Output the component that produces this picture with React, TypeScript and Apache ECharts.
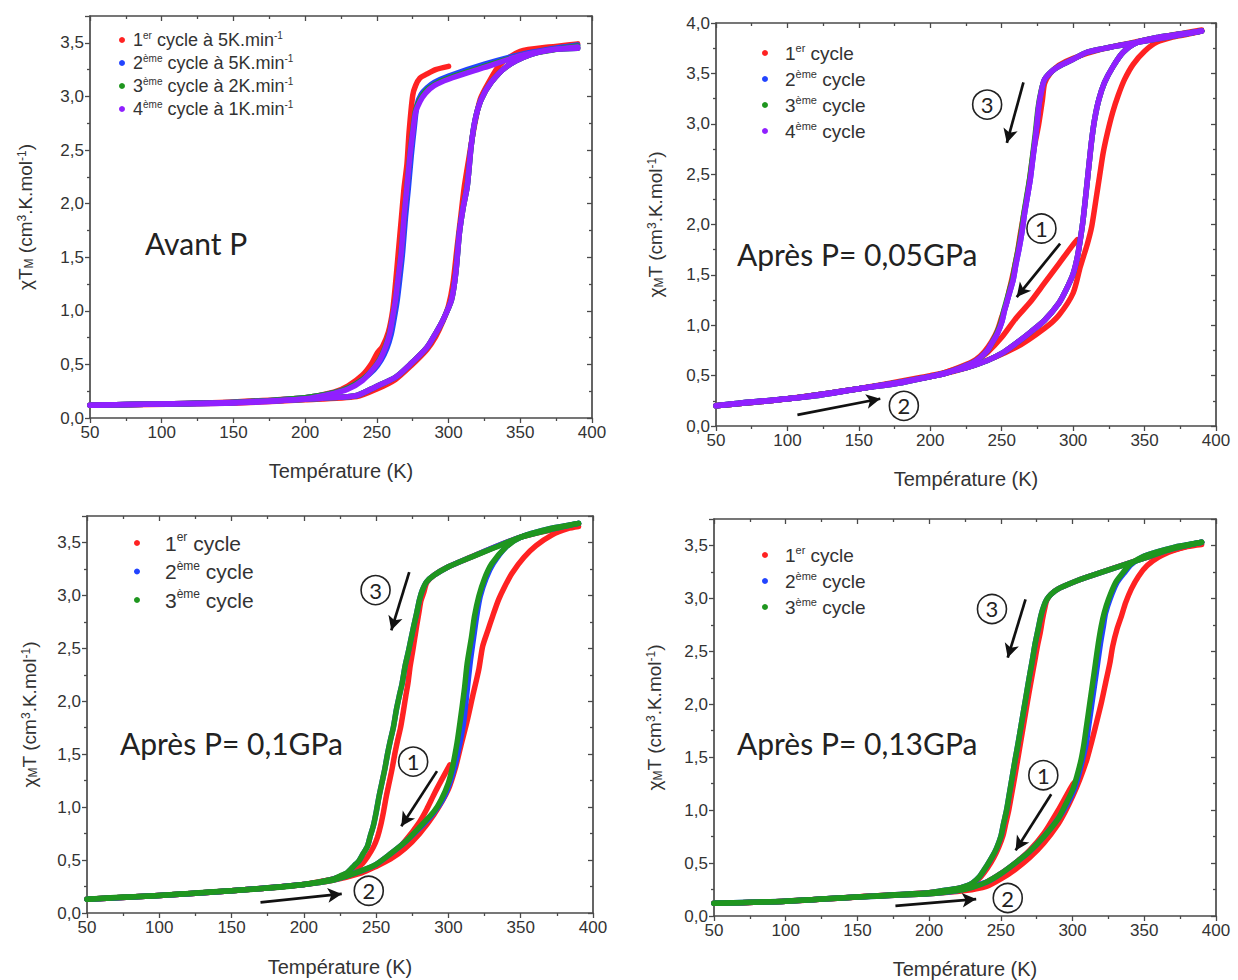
import React, { useEffect, useRef } from "react";
import * as echarts from "echarts";

type Pt = [number, number];

// ---------- legend names ----------
const p1Names = [
  "1er cycle à 5K.min-1",
  "2ème cycle à 5K.min-1",
  "3ème cycle à 2K.min-1",
  "4ème cycle à 1K.min-1",
];
const cycNames = ["1er cycle", "2ème cycle", "3ème cycle", "4ème cycle"];

// ---------- Panel 1 : Avant P ----------
const p1RedCool: Pt[] = [[300,3.28],[291,3.25],[285,3.21],[280,3.17],[277,3.10],[275,3.01],[272.5,2.67],[271,2.37],[269,2.15],[267,1.85],[265,1.55],[263,1.25],[261,1.0],[258,0.8],[254,0.67],[250,0.6],[246,0.5],[240,0.4],[230,0.3],[220,0.24],[200,0.19],[150,0.15],[100,0.13],[50,0.12]];
const p1RedWarm: Pt[] = [[50,0.12],[150,0.14],[200,0.17],[236,0.2],[250,0.27],[263,0.36],[274,0.49],[285,0.64],[291,0.76],[296,0.9],[300,1.05],[303,1.25],[306,1.6],[308.5,1.88],[311,2.16],[314,2.41],[317.5,2.69],[322,2.97],[328,3.13],[336,3.3],[350,3.42],[370,3.46],[390,3.49]];
const p1BlueCool: Pt[] = [[390,3.48],[370,3.44],[350,3.39],[325,3.3],[300,3.19],[290,3.13],[285,3.08],[281,3.02],[278,2.92],[276,2.7],[274,2.45],[272,2.15],[270,1.88],[268,1.55],[266,1.3],[264,1.08],[262,0.92],[260,0.78],[257,0.65],[253,0.54],[248,0.45],[240,0.36],[230,0.28],[220,0.235],[200,0.19],[150,0.145],[100,0.13],[50,0.12]];
const p1GreenCool: Pt[] = [[390,3.47],[350,3.38],[325,3.28],[300,3.17],[290,3.11],[284,3.05],[280,2.97],[277,2.87],[275,2.68],[273,2.45],[271,2.16],[269,1.88],[267,1.55],[265,1.32],[263,1.1],[261,0.94],[259,0.8],[256,0.67],[252,0.55],[247,0.45],[240,0.36],[230,0.28],[220,0.235],[200,0.19],[150,0.145],[100,0.13],[50,0.12]];
const p1PurpleCool: Pt[] = [[390,3.46],[370,3.43],[350,3.38],[325,3.27],[300,3.16],[290,3.1],[284,3.03],[280,2.95],[277,2.85],[275,2.66],[273,2.44],[271,2.16],[269,1.88],[267,1.54],[265,1.32],[263,1.1],[261,0.94],[259,0.79],[256,0.66],[252,0.54],[247,0.45],[240,0.35],[230,0.27],[220,0.23],[200,0.18],[150,0.14],[100,0.13],[50,0.12]];
const p1Warm: Pt[] = [[50,0.12],[100,0.13],[150,0.145],[200,0.175],[220,0.19],[236,0.21],[249,0.29],[263,0.38],[274,0.51],[285,0.66],[291,0.79],[296,0.91],[302,1.1],[305,1.35],[307.5,1.72],[310,1.95],[313,2.16],[315.7,2.53],[318.5,2.78],[322.7,2.97],[329.6,3.13],[340.6,3.28],[357,3.39],[374,3.44],[390,3.45]];

// ---------- Panel 2 : Après P = 0,05 GPa ----------
const p2RedStart: Pt[] = [[303,1.85],[300,1.8],[290,1.61],[280,1.42],[270,1.23],[260,1.07],[250,0.88],[240,0.73],[232,0.65],[225,0.6],[210,0.53],[200,0.49],[150,0.37],[100,0.27],[50,0.2]];
const p2RedWarm: Pt[] = [[50,0.2],[100,0.27],[150,0.37],[200,0.49],[230,0.6],[260,0.78],[280,0.97],[290,1.1],[300,1.32],[305,1.58],[310,1.81],[313,1.98],[316,2.25],[318.5,2.48],[321,2.71],[324,2.91],[327.6,3.11],[331.5,3.28],[336,3.44],[342,3.59],[350,3.72],[358.6,3.81],[369.6,3.86],[380.7,3.89],[390,3.92]];
const p2RedCool: Pt[] = [[390,3.93],[350,3.83],[320,3.74],[300,3.65],[290,3.58],[284,3.5],[280,3.4],[278.5,3.24],[275.7,2.98],[272.4,2.74],[270.2,2.51],[267.4,2.25],[265.2,2.08],[263,1.9],[261,1.72],[259,1.58],[257,1.45],[255,1.33],[253,1.2],[250,1.08],[247,0.95],[243,0.84],[238,0.74],[232,0.66],[225,0.61],[210,0.53],[200,0.5],[150,0.37],[100,0.27],[50,0.2]];
const p2GreenCool: Pt[] = [[390,3.92],[350,3.82],[330,3.77],[310,3.71],[300,3.64],[290,3.57],[285,3.52],[280,3.44],[277.5,3.32],[275.5,3.16],[273.5,2.9],[271.5,2.67],[269.5,2.45],[267.5,2.28],[265.5,2.11],[263.5,1.91],[261.5,1.75],[259.5,1.61],[257.5,1.45],[255.5,1.35],[253.5,1.25],[251.5,1.15],[249.5,1.03],[246.5,0.92],[243,0.82],[240,0.75],[235,0.68],[230,0.63],[225,0.6],[220,0.57],[210,0.52],[200,0.49],[180,0.43],[150,0.37],[120,0.3],[100,0.27],[75,0.24],[50,0.2]];
const p2PurpleCool: Pt[] = [[390,3.92],[350,3.82],[330,3.77],[310,3.71],[300,3.64],[290,3.57],[285,3.52],[280,3.44],[278,3.34],[276,3.18],[274,2.91],[272,2.68],[270,2.45],[268,2.28],[266,2.11],[264,1.91],[262,1.75],[260,1.61],[258,1.45],[256,1.35],[254,1.25],[252,1.15],[250,1.03],[247,0.92],[243,0.82],[240,0.75],[235,0.68],[230,0.63],[225,0.6],[220,0.57],[210,0.52],[200,0.49],[180,0.43],[150,0.37],[120,0.3],[100,0.27],[75,0.24],[50,0.2]];
const p2Warm: Pt[] = [[50,0.2],[100,0.27],[150,0.37],[200,0.49],[220,0.56],[230,0.6],[240,0.65],[250,0.72],[260,0.82],[270,0.93],[280,1.05],[290,1.22],[295,1.35],[300,1.51],[303,1.68],[305,1.85],[307,2.05],[309,2.31],[311,2.58],[313,2.84],[315,3.04],[318,3.24],[322,3.41],[328,3.57],[335,3.71],[345,3.81],[360,3.86],[375,3.89],[390,3.92]];

// ---------- Panel 3 : Après P = 0,1 GPa ----------
const p3RedStart: Pt[] = [[301,1.4],[295,1.25],[290,1.12],[285,0.98],[280,0.86],[270,0.68],[260,0.54],[250,0.45],[240,0.39],[230,0.35],[220,0.32],[200,0.27],[150,0.21],[100,0.165],[50,0.13]];
const p3RedWarm: Pt[] = [[50,0.13],[100,0.165],[150,0.21],[200,0.27],[220,0.31],[240,0.38],[250,0.44],[260,0.51],[270,0.61],[280,0.75],[290,0.93],[300,1.17],[305,1.38],[308.6,1.58],[312.7,1.8],[316.8,2.05],[321,2.3],[323.7,2.52],[327.3,2.67],[330.5,2.8],[334.7,2.96],[338.8,3.08],[344,3.21],[352.3,3.36],[360.6,3.47],[371.5,3.57],[382.5,3.63],[390,3.65]];
const p3RedCool: Pt[] = [[390,3.67],[350,3.55],[310,3.33],[300,3.27],[290,3.19],[285,3.12],[283,3.03],[281,2.95],[279.5,2.83],[278,2.71],[276.5,2.58],[275,2.45],[273.5,2.33],[272,2.17],[270.5,2.05],[269,1.92],[267,1.76],[265,1.64],[263,1.51],[261,1.36],[259,1.23],[257,1.1],[255,0.95],[253,0.82],[251,0.72],[248,0.62],[244,0.53],[240,0.46],[235,0.41],[230,0.37],[220,0.32],[200,0.27],[150,0.21],[100,0.165],[50,0.13]];
const p3BlueWarm: Pt[] = [[50,0.13],[100,0.165],[150,0.21],[200,0.27],[220,0.31],[240,0.4],[250,0.46],[260,0.56],[270,0.67],[280,0.8],[290,0.95],[296,1.07],[301,1.23],[304.5,1.39],[308,1.61],[310.5,1.8],[313,2.11],[315,2.36],[317.5,2.61],[319.5,2.8],[322,2.99],[326,3.16],[331,3.3],[340,3.46],[350,3.55],[370,3.63],[390,3.68]];
const p3BlueCool: Pt[] = [[390,3.68],[350,3.55],[310,3.33],[300,3.27],[290,3.19],[285,3.13],[282,3.05],[280,2.96],[278,2.83],[276,2.71],[274,2.58],[272,2.45],[270,2.33],[268,2.17],[266,2.05],[264,1.92],[262,1.76],[260,1.64],[258,1.51],[256,1.36],[254,1.23],[252,1.1],[250,0.95],[248,0.82],[246,0.73],[244,0.63],[241,0.56],[238,0.49],[235,0.45],[230,0.38],[220,0.32],[200,0.27],[150,0.21],[100,0.165],[50,0.13]];
const p3GreenCool: Pt[] = [[390,3.68],[370,3.62],[350,3.55],[330,3.44],[310,3.33],[300,3.27],[290,3.19],[285,3.13],[282,3.05],[280,2.96],[278,2.83],[276,2.71],[274,2.58],[272,2.45],[270,2.33],[268,2.17],[266,2.05],[264,1.92],[262,1.76],[260,1.64],[258,1.51],[256,1.36],[254,1.23],[252,1.1],[250,0.95],[248,0.82],[246,0.73],[244,0.63],[241,0.56],[238,0.49],[235,0.45],[230,0.38],[225,0.35],[220,0.32],[200,0.27],[175,0.235],[150,0.21],[125,0.19],[100,0.165],[75,0.15],[50,0.13]];
const p3GreenWarm: Pt[] = [[50,0.13],[100,0.165],[150,0.21],[200,0.27],[220,0.31],[230,0.35],[240,0.4],[250,0.46],[260,0.56],[270,0.67],[280,0.81],[290,0.96],[295,1.07],[300,1.23],[303,1.39],[306,1.61],[308,1.8],[311,2.11],[313,2.36],[316,2.61],[318,2.8],[321,2.99],[325,3.16],[330,3.3],[340,3.46],[350,3.55],[370,3.63],[390,3.68]];

// ---------- Panel 4 : Après P = 0,13 GPa ----------
const p4RedStart: Pt[] = [[302,1.27],[300,1.24],[295,1.12],[290,1.0],[280,0.78],[270,0.62],[260,0.5],[250,0.4],[240,0.32],[230,0.27],[220,0.25],[200,0.22],[150,0.18],[100,0.14],[50,0.12]];
const p4RedWarm: Pt[] = [[50,0.12],[100,0.14],[150,0.18],[200,0.21],[225,0.24],[240,0.28],[250,0.35],[260,0.44],[270,0.55],[280,0.69],[290,0.87],[295,0.99],[300,1.13],[305,1.29],[310,1.48],[313,1.63],[316,1.79],[320,2.01],[323,2.2],[326,2.39],[328,2.55],[331,2.71],[334,2.83],[337,2.96],[341,3.09],[346,3.21],[352,3.31],[360,3.39],[370,3.45],[380,3.49],[390,3.51]];
const p4RedCool: Pt[] = [[390,3.53],[350,3.38],[310,3.2],[300,3.15],[290,3.09],[285,3.04],[282,2.98],[280.5,2.9],[279,2.8],[277.5,2.68],[275.5,2.55],[273.5,2.4],[271.5,2.25],[269.5,2.1],[267.5,1.94],[265.5,1.78],[263.5,1.62],[261.5,1.46],[259.5,1.3],[257.5,1.15],[255.5,1.0],[253.5,0.88],[251.5,0.76],[248.5,0.65],[245,0.55],[241,0.46],[236,0.37],[230,0.3],[220,0.26],[200,0.22],[150,0.18],[100,0.14],[50,0.12]];
const p4BlueWarm: Pt[] = [[50,0.12],[100,0.14],[150,0.18],[200,0.21],[220,0.24],[240,0.32],[250,0.4],[260,0.5],[270,0.61],[280,0.75],[290,0.92],[296,1.05],[301,1.19],[304,1.32],[307,1.48],[309.5,1.63],[311.5,1.82],[313.5,2.01],[315.5,2.2],[317.5,2.39],[319.5,2.58],[321.5,2.74],[323,2.86],[326,2.99],[331,3.15],[336,3.24],[341,3.32],[350,3.4],[370,3.48],[390,3.53]];
const p4GreenCool: Pt[] = [[390,3.53],[370,3.47],[350,3.38],[330,3.29],[310,3.2],[300,3.15],[290,3.09],[285,3.04],[282,2.99],[280,2.93],[278,2.84],[276,2.71],[274,2.58],[272,2.42],[270,2.27],[268,2.11],[266,1.95],[264,1.79],[262,1.63],[260,1.48],[258,1.32],[256,1.16],[254,1.0],[252,0.88],[250,0.75],[247,0.64],[244,0.56],[240,0.47],[235,0.37],[230,0.31],[225,0.28],[220,0.26],[210,0.24],[200,0.22],[175,0.2],[150,0.18],[125,0.16],[100,0.14],[75,0.13],[50,0.12]];
const p4GreenWarm: Pt[] = [[50,0.12],[100,0.14],[150,0.18],[200,0.21],[220,0.24],[230,0.27],[240,0.32],[250,0.4],[260,0.5],[270,0.61],[280,0.75],[290,0.92],[295,1.05],[300,1.19],[303,1.32],[306,1.48],[308,1.63],[310,1.82],[312,2.01],[314,2.2],[316,2.39],[318,2.58],[320,2.74],[322,2.86],[325,2.99],[330,3.15],[335,3.24],[340,3.32],[350,3.4],[370,3.48],[390,3.53]];

// ---------- annotations (data coordinates) ----------
// [circleT, circleX, arrowFromT, arrowFromX, arrowToT, arrowToX]
const p2Marks = { c3: [239.8, 3.19, 265.2, 3.41, 253.6, 2.81], c1: [277.8, 1.96, 290.9, 1.81, 260.5, 1.28], c2: [181.5, 0.2, 107, 0.11, 165, 0.27] };
const p3Marks = { c3: [249.6, 3.05, 272.9, 3.22, 260.5, 2.67], c1: [275.6, 1.43, 292.1, 1.34, 267.4, 0.82], c2: [244.9, 0.21, 170, 0.1, 226.2, 0.18] };
const p4Marks = { c3: [243.8, 2.9, 267.2, 2.99, 254.8, 2.44], c1: [279.6, 1.33, 285.1, 1.15, 260.3, 0.62], c2: [254.8, 0.17, 176.5, 0.095, 232.8, 0.16] };

const COL = { red: "#ff2222", blue: "#2244ff", green: "#1f961f", purple: "#9020ff" };
const AX = "#4a4a4a";
const TXT = "#333333";
const FONT = "'Liberation Sans', Arial, sans-serif";
const CAL = "Lato, 'Open Sans', sans-serif";

const grids = [
  { left: 90, top: 16, width: 502, height: 402, ymax: 3.75, yGap: 55, xGap: 43 },
  { left: 716, top: 23, width: 500, height: 403, ymax: 4.0, yGap: 51, xGap: 43 },
  { left: 87, top: 516, width: 506, height: 397, ymax: 3.75, yGap: 48, xGap: 44 },
  { left: 714, top: 519, width: 502, height: 397, ymax: 3.75, yGap: 50, xGap: 43 },
];

function fmtLegend(name: string): string {
  let s = name.replace(/^(\d)(er|ème)/, "$1{sup|$2}");
  s = s.replace("min-1", "min{sup|-1}");
  return s;
}

export default function App() {
  const ref = useRef<HTMLDivElement>(null);
  useEffect(() => {
    if (!ref.current) return;
    const chart = echarts.init(ref.current, undefined, { renderer: "svg" });

    const xAxes: any[] = [];
    const yAxes: any[] = [];
    grids.forEach((g, i) => {
      const common = {
        gridIndex: i,
        type: "value",
        axisLine: { show: true, onZero: false, lineStyle: { color: AX, width: 1.7 } },
        splitLine: { show: false },
        minorTick: { show: true, splitNumber: 2, length: 3, lineStyle: { color: AX, width: 1.3 } },
      };
      xAxes.push({
        ...common,
        position: "bottom",
        min: 50,
        max: 400,
        interval: 50,
        axisTick: { show: true, length: 5, lineStyle: { color: AX, width: 1.3 } },
        axisLabel: { color: TXT, fontSize: 17, fontFamily: FONT, margin: 6 },
        name: "Température (K)",
        nameLocation: "middle",
        nameGap: g.xGap,
        nameTextStyle: { color: TXT, fontSize: 20, fontFamily: FONT },
      });
      xAxes.push({
        ...common,
        position: "top",
        min: 50,
        max: 400,
        interval: 50,
        axisTick: { show: true, inside: true, length: 5, lineStyle: { color: AX, width: 1.3 } },
        axisLabel: { show: false },
      });
      const yName = i === 0
        ? "χT{sub|M} (cm{sup|3}.K.mol{sup|-1})"
        : "χ{sub|M}T (cm{sup|3}.K.mol{sup|-1})";
      yAxes.push({
        ...common,
        position: "left",
        min: 0,
        max: g.ymax,
        interval: 0.5,
        axisTick: { show: true, length: 5, lineStyle: { color: AX, width: 1.3 } },
        axisLabel: {
          color: TXT, fontSize: 17, fontFamily: FONT, margin: 6,
          showMaxLabel: g.ymax === 4.0,
          formatter: (v: number) => v.toFixed(1).replace(".", ","),
        },
        name: yName,
        nameLocation: "middle",
        nameRotate: 90,
        nameGap: g.yGap,
        nameTextStyle: {
          color: TXT, fontSize: 19, fontFamily: FONT,
          rich: {
            sub: { fontSize: 12, fontFamily: FONT, color: TXT, verticalAlign: "bottom", padding: [7, 0, 0, 0] },
            sup: { fontSize: 12, fontFamily: FONT, color: TXT, verticalAlign: "top", padding: [0, 0, 7, 0] },
          },
        },
      });
      yAxes.push({
        ...common,
        position: "right",
        min: 0,
        max: g.ymax,
        interval: 0.5,
        axisTick: { show: true, inside: true, length: 5, lineStyle: { color: AX, width: 1.3 } },
        axisLabel: { show: false },
      });
    });

    const series: any[] = [];
    const add = (panel: number, name: string, color: string, data: Pt[], z: number) => {
      series.push({
        type: "line",
        name,
        xAxisIndex: panel * 2,
        yAxisIndex: panel * 2,
        data,
        showSymbol: false,
        smooth: 0.25,
        itemStyle: { color },
        lineStyle: { color, width: 5.5, cap: "round", join: "round" },
        z,
        silent: true,
      });
    };
    // Panel 1
    add(0, p1Names[0], COL.red, p1RedCool, 2);
    add(0, p1Names[0], COL.red, p1RedWarm, 2);
    add(0, p1Names[1], COL.blue, p1BlueCool, 3);
    add(0, p1Names[1], COL.blue, p1Warm, 3);
    add(0, p1Names[2], COL.green, p1GreenCool, 4);
    add(0, p1Names[2], COL.green, p1Warm, 4);
    add(0, p1Names[3], COL.purple, p1PurpleCool, 5);
    add(0, p1Names[3], COL.purple, p1Warm, 5);
    // Panel 2
    add(1, cycNames[0], COL.red, p2RedStart, 2);
    add(1, cycNames[0], COL.red, p2RedWarm, 2);
    add(1, cycNames[0], COL.red, p2RedCool, 2);
    add(1, cycNames[1], COL.blue, p2PurpleCool, 3);
    add(1, cycNames[1], COL.blue, p2Warm, 3);
    add(1, cycNames[2], COL.green, p2GreenCool, 4);
    add(1, cycNames[2], COL.green, p2Warm, 4);
    add(1, cycNames[3], COL.purple, p2PurpleCool, 5);
    add(1, cycNames[3], COL.purple, p2Warm, 5);
    // Panel 3
    add(2, cycNames[0], COL.red, p3RedStart, 2);
    add(2, cycNames[0], COL.red, p3RedWarm, 2);
    add(2, cycNames[0], COL.red, p3RedCool, 2);
    add(2, cycNames[1], COL.blue, p3BlueCool, 3);
    add(2, cycNames[1], COL.blue, p3BlueWarm, 3);
    add(2, cycNames[2], COL.green, p3GreenCool, 4);
    add(2, cycNames[2], COL.green, p3GreenWarm, 4);
    // Panel 4
    add(3, cycNames[0], COL.red, p4RedStart, 2);
    add(3, cycNames[0], COL.red, p4RedWarm, 2);
    add(3, cycNames[0], COL.red, p4RedCool, 2);
    add(3, cycNames[1], COL.blue, p4GreenCool, 3);
    add(3, cycNames[1], COL.blue, p4BlueWarm, 3);
    add(3, cycNames[2], COL.green, p4GreenCool, 4);
    add(3, cycNames[2], COL.green, p4GreenWarm, 4);

    // annotation helper series
    const annot = (panel: number, m: Record<string, number[]>) => {
      const keys = ["c3", "c1", "c2"];
      const labels: Record<string, string> = { c3: "3", c1: "1", c2: "2" };
      series.push({
        type: "scatter",
        name: "annot" + panel,
        xAxisIndex: panel * 2,
        yAxisIndex: panel * 2,
        data: [],
        silent: true,
        z: 10,
        markPoint: {
          silent: true,
          symbol: "circle",
          symbolSize: 29,
          itemStyle: { color: "rgba(255,255,255,0)", borderColor: "#222", borderWidth: 1.6 },
          label: { show: true, position: "inside", color: "#222", fontSize: 22, fontFamily: CAL },
          data: keys.map((k) => ({ coord: [m[k][0], m[k][1]], value: labels[k], label: { formatter: labels[k] } })),
        },
        markLine: {
          silent: true,
          symbol: ["none", "arrow"],
          symbolSize: [11, 14],
          lineStyle: { color: "#111", width: 2.7, type: "solid" },
          label: { show: false },
          data: keys.map((k) => [{ coord: [m[k][2], m[k][3]] }, { coord: [m[k][4], m[k][5]] }]),
        },
      });
    };
    annot(1, p2Marks);
    annot(2, p3Marks);
    annot(3, p4Marks);

    const mkLegend = (names: string[], left: number, top: number, fs: number, lh: number, gap: number, pad: number) => ({
      data: names,
      left,
      top,
      orient: "vertical",
      icon: "circle",
      itemWidth: 6,
      itemHeight: 6,
      itemGap: gap,
      selectedMode: false,
      formatter: (n: string) => fmtLegend(n),
      textStyle: {
        color: TXT, fontSize: fs, fontFamily: FONT, lineHeight: lh, padding: [0, 0, 0, pad],
        rich: {
          sup: { fontSize: Math.round(fs * 0.58), color: TXT, fontFamily: FONT, lineHeight: lh, verticalAlign: "top", padding: [0, 0, Math.round(fs * 0.45), 0] },
        },
      },
    });

    const option: any = {
      animation: false,
      backgroundColor: "#ffffff",
      grid: grids.map((g) => ({ left: g.left, top: g.top, width: g.width, height: g.height, containLabel: false })),
      xAxis: xAxes,
      yAxis: yAxes,
      legend: [
        mkLegend(p1Names, 114, 25, 18, 20, 3, 3),
        mkLegend(cycNames, 757, 37, 19, 22, 4, 12),
        mkLegend(cycNames.slice(0, 3), 129, 526, 21, 24, 4.5, 20),
        mkLegend(cycNames.slice(0, 3), 757, 539, 19, 22, 4, 12),
      ],
      graphic: [
        { type: "text", left: 145, top: 228, style: { text: "Avant P", fontSize: 30, fontFamily: CAL, fill: "#222" } },
        { type: "text", left: 737, top: 239, style: { text: "Après P= 0,05GPa", fontSize: 30, fontFamily: CAL, fill: "#222" } },
        { type: "text", left: 120, top: 728, style: { text: "Après P= 0,1GPa", fontSize: 30, fontFamily: CAL, fill: "#222" } },
        { type: "text", left: 737, top: 728, style: { text: "Après P= 0,13GPa", fontSize: 30, fontFamily: CAL, fill: "#222" } },
      ],
      series,
    };
    chart.setOption(option);
    return () => chart.dispose();
  }, []);

  return (
    <div
      ref={ref}
      style={{ position: "absolute", left: 0, top: 0, width: 1238, height: 980, background: "#fff" }}
    />
  );
}
